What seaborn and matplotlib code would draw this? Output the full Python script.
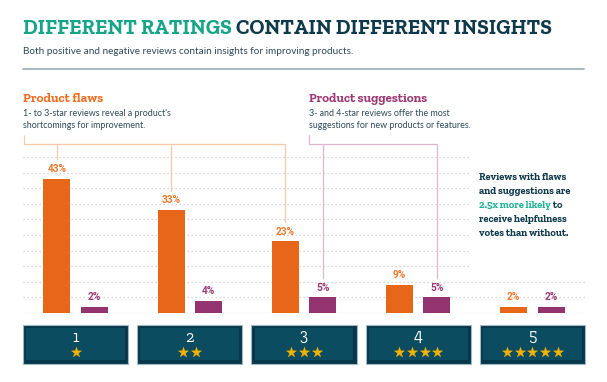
import matplotlib
matplotlib.use('Agg')
import matplotlib.pyplot as plt
from matplotlib.patches import Rectangle
import seaborn as sns
import pandas as pd
import numpy as np

# data
ratings = ['1', '2', '3', '4', '5']
flaws = [43, 33, 23, 9, 2]
suggestions = [2, 4, 5, 5, 2]
flaw_groups = ['1', '2', '3']          # ratings bracketed as "Product flaws"
suggestion_groups = ['3', '4']         # ratings bracketed as "Product suggestions"

ORANGE = '#e8661a'
PURPLE = '#93336f'
TEAL = '#17a588'
NAVY = '#0f3a4b'
SLATE = '#2d4b59'
ORANGE_LT = '#f8c8a8'
PINK_LT = '#dfb6cf'
GRID = '#c6cbcf'

SLAB = ['Zilla Slab', 'Roboto Slab', 'DejaVu Serif']
SANS = ['Lato', 'DejaVu Sans']
NUM = ['Roboto', 'DejaVu Sans']

W, H = 607, 382
sns.set_theme(style='white')
plt.rcParams['font.family'] = SANS

fig = plt.figure(figsize=(W / 100, H / 100), dpi=100)
fig.patch.set_facecolor('white')


def fx(px):
    return px / W


def fy(py):
    return 1 - py / H


def fit(texts, width_px):
    # scale font so the texts together span width_px
    r = fig.canvas.get_renderer()
    w = sum(t.get_window_extent(r).width for t in texts)
    for t in texts:
        t.set_fontsize(t.get_fontsize() * width_px / w)


# chart axes: 50% gridline at y=157px, baseline at 313px
PX_PER = 3.12
top_px, base_px = 128, 313
ax = fig.add_axes([fx(23), fy(base_px), fx(562), (base_px - top_px) / H])

df = pd.DataFrame({
    'rating': ratings * 2,
    'kind': ['flaws'] * 5 + ['suggestions'] * 5,
    'pct': flaws + suggestions,
})
sns.barplot(data=df, x='rating', y='pct', hue='kind', order=ratings,
            hue_order=['flaws', 'suggestions'], palette=[ORANGE, PURPLE],
            width=0.656, gap=0.28, saturation=1, legend=False, ax=ax,
            linewidth=0, errorbar=None)
ax.set_xlim(-0.46, 4.46)
ax.set_ylim(0, (base_px - top_px) / PX_PER)

# dotted gridlines; upper ones stop short of the side note
for g in range(0, 55, 5):
    xmax = 1.0 if g <= 10 else 0.795
    ax.axhline(g, xmin=0, xmax=xmax, color=GRID, lw=0.9,
               ls=(0, (1, 2.2)), zorder=0)

for s in ax.spines.values():
    s.set_visible(False)
ax.set_xticks([])
ax.set_yticks([])
ax.set_xlabel('')
ax.set_ylabel('')

# bar centres from the patches seaborn drew
bars = [p for p in ax.patches if p.get_height() > 0]
centers = {}
for p in bars:
    cx = p.get_x() + p.get_width() / 2
    grp = int(round(cx))
    kind = 'flaws' if cx < grp else 'suggestions'
    centers[(ratings[grp], kind)] = (cx, p.get_height(), p.get_x(), p.get_width())

for (r, kind), (cx, h, x0, w) in centers.items():
    col = '#ee7a2e' if kind == 'flaws' else '#9a3b76'
    ax.annotate(f'{h:.0f}%', (cx, h), xytext=(0, 7), textcoords='offset points',
                ha='center', va='center', color=col, fontsize=7.3,
                fontweight='bold', family=NUM)

# brackets
br_y = (base_px - 144) / PX_PER
tick_y = (base_px - 135) / PX_PER
drop_gap = 6.2

fx_list = [centers[(r, 'flaws')] for r in flaw_groups]
ax.plot([-0.452, -0.452, fx_list[-1][0]], [tick_y, br_y, br_y],
        color=ORANGE_LT, lw=0.9, solid_capstyle='butt', clip_on=False)
for cx, h, _, _ in fx_list:
    ax.plot([cx, cx], [br_y, h + drop_gap], color=ORANGE_LT, lw=0.9, clip_on=False)

sx_list = [centers[(r, 'suggestions')] for r in suggestion_groups]
left_s = sx_list[0][2]
ax.plot([left_s, left_s, sx_list[-1][0]], [tick_y, br_y, br_y],
        color=PINK_LT, lw=0.9, clip_on=False)
for cx, h, _, _ in sx_list:
    ax.plot([cx, cx], [br_y, h + drop_gap], color=PINK_LT, lw=0.9, clip_on=False)

# rating boxes under the chart
bx = fig.add_axes([fx(23), fy(363.5), fx(562), 39 / H], sharex=ax)
bx.set_ylim(0, 1)
bx.axis('off')
for i, r in enumerate(ratings):
    bx.add_patch(Rectangle((i - 0.46, 0), 0.92, 1, facecolor='#06374a',
                           edgecolor='#9fb9c4', lw=0.8, clip_on=False))
    bx.add_patch(Rectangle((i - 0.46 + 0.028, 0.08), 0.92 - 0.056, 0.84,
                           facecolor='#0c4c60', lw=0, clip_on=False))
    bx.text(i, 0.66, r, ha='center', va='center', color='white',
            fontsize=12, family=SLAB)
    n = int(r)
    xs = i + (np.arange(n) - (n - 1) / 2) * 0.111
    bx.scatter(xs, np.full(n, 0.29), marker='*', s=58, color='#f5b300',
               edgecolor='#f5b300', linewidth=0.3, clip_on=False, zorder=3)

# title
t1 = fig.text(fx(23), fy(34), 'DIFFERENT RATINGS ', color=TEAL, fontsize=16,
              fontweight='bold', family=SLAB, va='baseline')
t2 = fig.text(0, 0, 'CONTAIN DIFFERENT INSIGHTS', color=NAVY, fontsize=16,
              fontweight='bold', family=SLAB, va='baseline')
fit([t1, t2], 527)
fig.canvas.draw()
ext = t1.get_window_extent(fig.canvas.get_renderer())
t2.set_position((ext.x1 / fig.bbox.width, fy(34)))

sub = fig.text(fx(23), fy(54.5), 'Both positive and negative reviews contain insights for improving products.',
               color=SLATE, fontsize=6.5, va='baseline')
fit([sub], 330)

fig.add_artist(plt.Line2D([fx(23), fx(584)], [fy(69), fy(69)], color='#9fb2bc', lw=1.3))

# section headers
h1 = fig.text(fx(23), fy(102), 'Product flaws', color='#ef6f22', fontsize=9,
              fontweight='bold', family=SLAB, va='baseline')
fit([h1], 80)
d1 = fig.text(fx(23), fy(116), "1- to 3-star reviews reveal a product's", color=SLATE,
              fontsize=6, va='baseline')
fit([d1], 148)
d1b = fig.text(fx(23), fy(127.5), 'shortcomings for improvement.', color=SLATE,
               fontsize=d1.get_fontsize(), va='baseline')

h2 = fig.text(fx(309), fy(102), 'Product suggestions', color='#9b3a74', fontsize=9,
              fontweight='bold', family=SLAB, va='baseline')
fit([h2], 118)
d2 = fig.text(fx(309), fy(116), '3- and 4-star reviews offer the most', color=SLATE,
              fontsize=d1.get_fontsize(), va='baseline')
d2b = fig.text(fx(309), fy(127.5), 'suggestions for new products or features.', color=SLATE,
               fontsize=d1.get_fontsize(), va='baseline')

# side note
note_lines = ['Reviews with flaws', 'and suggestions are', None,
              'receive helpfulness', 'votes than without.']
n0 = fig.text(fx(479), fy(180.5), note_lines[0], color=NAVY, fontsize=7,
              fontweight='bold', family=SLAB, va='baseline')
fit([n0], 87)
fs = n0.get_fontsize()
base = [180.5, 194.5, 208.3, 222.2, 236]
for y, line in zip(base[1:], note_lines[1:]):
    if line is None:
        a = fig.text(fx(479), fy(y), '2.5x more likely', color='#1fb295', fontsize=fs,
                     fontweight='bold', family=SLAB, va='baseline')
        fig.canvas.draw()
        e = a.get_window_extent(fig.canvas.get_renderer())
        fig.text(e.x1 / fig.bbox.width, fy(y), ' to', color=NAVY, fontsize=fs,
                 fontweight='bold', family=SLAB, va='baseline')
    else:
        fig.text(fx(479), fy(y), line, color=NAVY, fontsize=fs,
                 fontweight='bold', family=SLAB, va='baseline')

fig.savefig('out.png', dpi=100, facecolor='white')
